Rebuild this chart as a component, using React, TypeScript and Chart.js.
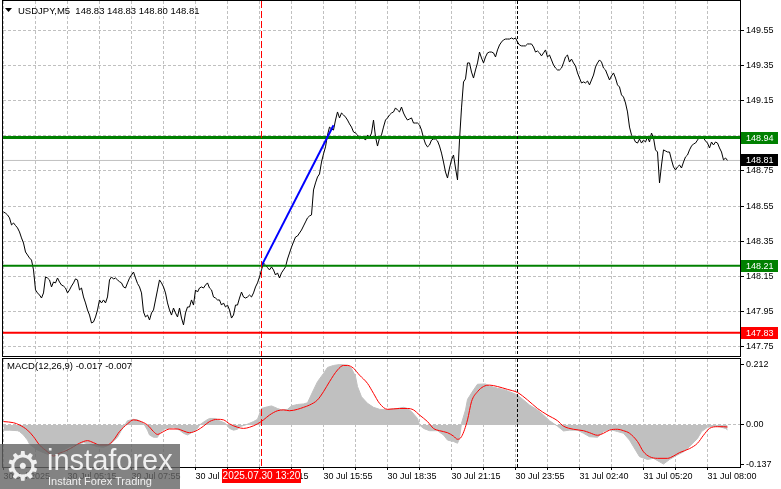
import React, { useEffect, useRef } from "react";
import { Chart, registerables } from "chart.js";

Chart.register(...registerables);

const FONT = '"Liberation Sans", Arial, Helvetica, sans-serif';

// ---------- texts ----------
const symbolTitle = "USDJPY,M5";
const ohlcValues = ["148.83", "148.83", "148.80", "148.81"];
const macdTitle = "MACD(12,26,9) -0.017 -0.007";
const markerLabel = "2025.07.30 13:20";

// ---------- price (M5 close, one value per bar) ----------
const priceClose = [
  148.517, 148.51, 148.5, 148.483, 148.443, 148.454, 148.44, 148.426, 148.403, 148.369,
  148.34, 148.289, 148.272, 148.255, 148.243, 148.187, 148.073, 148.056, 148.044, 148.027,
  148.056, 148.147, 148.141, 148.13, 148.09, 148.118, 148.113, 148.141, 148.118, 148.101,
  148.095, 148.084, 148.056, 148.073, 148.095, 148.113, 148.136, 148.13, 148.073, 148.084,
  148.033, 147.999, 147.959, 147.93, 147.885, 147.891, 147.919, 147.959, 148.016, 147.999,
  148.016, 147.999, 148.033, 148.13, 148.147, 148.135, 148.141, 148.13, 148.12, 148.113,
  148.09, 148.084, 148.113, 148.14, 148.158, 148.175, 148.141, 148.11, 148.09, 148.056,
  147.948, 147.919, 147.93, 147.902, 147.942, 147.959, 148.016, 148.073, 148.13, 148.113,
  148.09, 148.056, 147.999, 147.959, 147.93, 147.97, 147.942, 147.919, 147.97, 147.913,
  147.874, 147.942, 147.976, 147.976, 148.016, 147.987, 148.073, 148.061, 148.084, 148.09,
  148.084, 148.101, 148.113, 148.084, 148.073, 148.033, 148.027, 148.016, 148.016, 147.987,
  147.999, 147.976, 147.987, 147.959, 147.913, 147.93, 147.987, 147.987, 148.027, 148.061,
  148.033, 148.027, 148.033, 148.044, 148.033, 148.056, 148.09, 148.113, 148.147, 148.187,
  148.226, 148.215, 148.2, 148.187, 148.204, 148.187, 148.158, 148.17, 148.141, 148.17,
  148.187, 148.204, 148.249, 148.283, 148.317, 148.346, 148.374, 148.38, 148.397, 148.414,
  148.437, 148.46, 148.483, 148.494, 148.5, 148.642, 148.682, 148.716, 148.733, 148.801,
  148.847, 148.887, 148.955, 149.0, 148.989, 148.983, 149.04, 149.086, 149.052, 149.08,
  149.069, 149.057, 149.04, 149.018, 149.0, 148.972, 148.966, 148.955, 148.932, 148.938,
  148.938, 148.926, 148.955, 148.938, 148.966, 149.04, 148.944, 148.892, 148.938, 148.955,
  149.0, 149.04, 149.052, 149.069, 149.08, 149.086, 149.109, 149.097, 149.086, 149.114,
  149.08, 149.057, 149.04, 149.046, 149.052, 149.023, 149.023, 149.023, 149.012, 148.983,
  148.938, 148.904, 148.887, 148.898, 148.926, 148.932, 148.932, 148.921, 148.892, 148.852,
  148.801, 148.744, 148.71, 148.767, 148.813, 148.841, 148.767, 148.699, 148.926, 149.109,
  149.257, 149.274, 149.365, 149.365, 149.313, 149.279, 149.325, 149.365, 149.427, 149.393,
  149.365, 149.399, 149.422, 149.427, 149.427, 149.422, 149.399, 149.439, 149.467, 149.484,
  149.496, 149.501, 149.501, 149.501, 149.507, 149.501, 149.507, 149.484, 149.467, 149.462,
  149.462, 149.462, 149.473, 149.473, 149.473, 149.456, 149.427, 149.433, 149.422, 149.405,
  149.422, 149.439, 149.399, 149.41, 149.382, 149.353, 149.336, 149.325, 149.325, 149.336,
  149.365, 149.399, 149.41, 149.37, 149.387, 149.365, 149.348, 149.308, 149.279, 149.251,
  149.257, 149.251, 149.262, 149.24, 149.268, 149.296, 149.342, 149.365, 149.382, 149.37,
  149.336, 149.325, 149.296, 149.268, 149.291, 149.308, 149.279, 149.24, 149.228, 149.183,
  149.171, 149.137, 149.086, 149.0, 148.955, 148.938, 148.915, 148.909, 148.932, 148.909,
  148.926, 148.915, 148.944, 148.915, 148.966, 148.938, 148.87, 148.858, 148.682, 148.784,
  148.87, 148.864, 148.858, 148.858, 148.813, 148.773, 148.756, 148.773, 148.784, 148.767,
  148.801, 148.83, 148.841, 148.87, 148.892, 148.904, 148.909, 148.926, 148.944, 148.944,
  148.938, 148.921, 148.909, 148.881, 148.915, 148.898, 148.915, 148.909, 148.881, 148.858,
  148.813, 148.824, 148.81,
];

// ---------- levels & objects ----------
const resistanceLevel = 148.94;
const supportLevel = 148.21;
const stopLevel = 147.83;
const bidLevel = 148.81;
const trendBars = [129, 165];
const trendPrices = [148.21, 149.01];
const markerBar = 129;
const daySeparatorBar = 256.75;

// ---------- MACD ----------
const histBars = [
  0, 3, 7, 8, 10, 12, 13, 15, 17, 20, 23, 27, 30, 33, 37, 40, 43, 47, 50, 53, 57, 59, 61, 62, 65, 67, 70,
  72, 73, 75, 77, 78, 80, 82, 85, 88, 90, 92, 94, 97, 98, 101, 103, 106, 108, 111, 113, 115, 117, 118,
  121, 123, 125, 127, 129, 132, 134, 137, 139, 142, 144, 147, 150, 152, 155, 157, 160, 162, 165, 168,
  172, 174, 176, 177, 179, 182, 185, 188, 192, 193, 197, 200, 202, 204, 207, 208, 210, 213, 217, 220,
  222, 225, 227, 228, 229, 231, 232, 235, 237, 241, 243, 247, 250, 253, 257, 260, 263, 267, 270, 273,
  277, 280, 283, 287, 290, 293, 297, 300, 303, 307, 310, 313, 316, 318, 322, 325, 328, 330, 333, 337,
  340, 343, 347, 349, 352, 355, 358, 361, 362,
];
const histValues = [
  -0.018, -0.018, -0.02, -0.023, -0.035, -0.053, -0.067, -0.078, -0.088, -0.097, -0.105, -0.102, -0.088,
  -0.076, -0.067, -0.062, -0.067, -0.076, -0.078, -0.07, -0.043, -0.018, 0.004, 0.015, 0.02, 0.018, 0.006,
  -0.018, -0.035, -0.043, -0.043, -0.029, -0.015, -0.012, -0.009, -0.018, -0.029, -0.035, -0.027, -0.012,
  0.0, 0.015, 0.023, 0.023, 0.015, 0.006, -0.012, -0.018, -0.015, -0.006,
  0.0, 0.006, 0.012, 0.02, 0.058, 0.064, 0.067, 0.058, 0.053, 0.055, 0.067, 0.072, 0.074, 0.078, 0.123,
  0.152, 0.181, 0.202, 0.209, 0.212,
  0.21, 0.199, 0.17, 0.135, 0.099, 0.076, 0.062, 0.055, 0.053, 0.055, 0.058, 0.062, 0.058, 0.047, 0.023,
  0.0, -0.012, -0.02, -0.02, -0.035,
  -0.053, -0.058, -0.064, -0.047, 0.006, 0.053, 0.09, 0.123, 0.143, 0.144, 0.137, 0.129, 0.125, 0.117,
  0.105, 0.088, 0.07, 0.053, 0.035, 0.015,
  -0.004, -0.021, -0.018, -0.018, -0.029, -0.041, -0.043, -0.023, -0.015, -0.023, -0.029, -0.053, -0.088,
  -0.111, -0.121, -0.117, -0.129, -0.137, -0.121, -0.105,
  -0.094, -0.076, -0.047, -0.023, -0.008, -0.004, -0.006, -0.012, -0.017,
];
const signalBars = [
  0, 5, 8, 12, 15, 18, 22, 25, 28, 32, 35, 38, 42, 45, 48, 52, 55, 58, 62, 65, 68, 72, 75, 77, 80, 83,
  87, 90, 93, 97, 100, 103, 107, 110, 113, 117, 120, 123, 127, 130, 133, 137, 140, 143, 147, 150, 153,
  157, 160, 163, 167, 170, 172, 175, 178, 182, 185, 188, 192, 198, 202, 205, 208, 212, 215, 218, 222,
  225, 227, 229, 232, 234, 237, 240, 243, 247, 252, 257, 262, 267, 272, 277, 280, 285, 290, 293, 297,
  300, 303, 307, 310, 313, 317, 320, 323, 327, 332, 335, 338, 343, 347, 350, 353, 357, 360, 362,
];
const signalValues = [
  0.012, 0.008, 0.0, -0.018, -0.041, -0.07, -0.094, -0.109, -0.099, -0.088, -0.076, -0.064, -0.055,
  -0.062, -0.07, -0.07, -0.053, -0.023, 0.004, 0.018, 0.014, 0.0, -0.023, -0.033, -0.023, -0.014,
  -0.014, -0.021, -0.027, -0.018, -0.004, 0.012, 0.02, 0.018, 0.004, -0.008, -0.012, -0.008, 0.004,
  0.018, 0.035, 0.05, 0.053, 0.05, 0.055, 0.062, 0.07, 0.088, 0.117, 0.152, 0.193, 0.209, 0.209,
  0.199, 0.175, 0.146, 0.111, 0.076, 0.055, 0.058, 0.058, 0.053, 0.035, 0.012, -0.012, -0.02, -0.027,
  -0.039, -0.05, -0.041, 0.018, 0.082, 0.117, 0.135, 0.14, 0.135, 0.125, 0.114, 0.088, 0.058, 0.035,
  0.015, -0.004, -0.015, -0.02, -0.027, -0.036, -0.029, -0.018, -0.015, -0.02, -0.029, -0.058, -0.094,
  -0.111, -0.117, -0.117, -0.109, -0.097, -0.083, -0.064, -0.036, -0.012, -0.006, -0.006, -0.007,
];

// ---------- axes ----------
const priceTicks = [147.75, 147.95, 148.15, 148.35, 148.55, 148.75, 148.95, 149.15, 149.35, 149.55];
const macdTicks = [-0.137, 0, 0.212];
const macdTickLabels = ["-0.137", "0.00", "0.212"];
const gridBars = [0, 16, 32, 48, 64, 80, 96, 112, 128, 144, 160, 176, 192, 208, 224, 240, 256, 272, 288, 304, 320, 336, 352];
const labelBars = [0, 32, 64, 96, 128, 160, 192, 224, 256, 288, 320, 352];
const timeLabels = [
  "30 Jul 2025", "30 Jul 05:15", "30 Jul 07:55", "30 Jul 10:35", "30 Jul 13:15", "30 Jul 15:55",
  "30 Jul 18:35", "30 Jul 21:15", "30 Jul 23:55", "31 Jul 02:40", "31 Jul 05:20", "31 Jul 08:00",
];

const X_MIN = -0.25;
const X_MAX = 368.25;
const PRICE_MIN = 147.697;
const PRICE_MAX = 149.7175;
const MACD_MIN = -0.1474;
const MACD_MAX = 0.2316;

const GRID = "#C0C0C0";

function hline(v: number) {
  return [
    { x: X_MIN, y: v },
    { x: X_MAX, y: v },
  ];
}

const fixBox = (w?: number, h?: number) => (s: any) => {
  if (w !== undefined) s.width = w;
  if (h !== undefined) s.height = h;
  s.paddingLeft = 0;
  s.paddingRight = 0;
  s.paddingTop = 0;
  s.paddingBottom = 0;
};

function drawVLine(chart: any, bar: number, color: string, dash: number[]) {
  const { ctx, chartArea, scales } = chart;
  const x = Math.floor(scales.x.getPixelForValue(bar)) + 0.5;
  ctx.save();
  ctx.strokeStyle = color;
  ctx.lineWidth = 1;
  ctx.setLineDash(dash);
  ctx.beginPath();
  ctx.moveTo(x, chartArea.top);
  ctx.lineTo(x, chartArea.bottom);
  ctx.stroke();
  ctx.restore();
}

function drawFrame(chart: any) {
  const { ctx, chartArea } = chart;
  ctx.save();
  ctx.strokeStyle = "#000";
  ctx.lineWidth = 1;
  ctx.setLineDash([]);
  ctx.strokeRect(chartArea.left - 0.5, chartArea.top - 0.5, chartArea.right - chartArea.left + 1, chartArea.bottom - chartArea.top + 1);
  ctx.restore();
}

const priceDecor = {
  id: "priceDecor",
  afterDatasetsDraw(chart: any) {
    drawVLine(chart, markerBar, "#FF0000", [7, 3]);
    drawVLine(chart, daySeparatorBar, "#000000", [3, 2]);
  },
  afterDraw(chart: any) {
    const { ctx, scales } = chart;
    drawFrame(chart);
    const y = scales.y;
    const boxes = [
      { v: resistanceLevel, bg: "#008000" },
      { v: bidLevel, bg: "#000000" },
      { v: supportLevel, bg: "#008000" },
      { v: stopLevel, bg: "#FF0000" },
    ];
    ctx.save();
    ctx.font = `9px ${FONT}`;
    ctx.textBaseline = "middle";
    ctx.textAlign = "left";
    boxes.forEach((b) => {
      const py = Math.round(y.getPixelForValue(b.v));
      ctx.fillStyle = b.bg;
      ctx.fillRect(741, py - 6, 37, 12);
      ctx.fillStyle = "#FFFFFF";
      ctx.fillText(b.v.toFixed(2), 746, py + 0.5);
    });
    // header
    ctx.fillStyle = "#000";
    ctx.beginPath();
    ctx.moveTo(5, 8);
    ctx.lineTo(12, 8);
    ctx.lineTo(8.5, 12);
    ctx.closePath();
    ctx.fill();
    ctx.font = `9.5px ${FONT}`;
    ctx.fillText(`${symbolTitle}  ${ohlcValues.join(" ")}`, 18, 11);
    ctx.restore();
  },
};

const macdDecor = {
  id: "macdDecor",
  afterDatasetsDraw(chart: any) {
    drawVLine(chart, markerBar, "#FF0000", [7, 3]);
    drawVLine(chart, daySeparatorBar, "#000000", [3, 2]);
  },
  afterDraw(chart: any) {
    const { ctx, scales, chartArea } = chart;
    drawFrame(chart);
    ctx.save();
    ctx.font = `9.5px ${FONT}`;
    ctx.fillStyle = "#000";
    ctx.textBaseline = "middle";
    ctx.textAlign = "left";
    ctx.fillText(macdTitle, 7, chartArea.top + 7);
    const x = Math.floor(scales.x.getPixelForValue(markerBar));
    ctx.fillStyle = "#FF0000";
    ctx.fillRect(x - 39, chartArea.bottom + 2, 79, 14);
    ctx.fillStyle = "#FFFFFF";
    ctx.font = `10px ${FONT}`;
    ctx.textAlign = "center";
    ctx.fillText(markerLabel, x + 0.5, chartArea.bottom + 9.5);
    ctx.restore();
  },
};

function priceConfig(): any {
  const priceData = priceClose.map((v, i) => ({ x: i, y: v }));
  return {
    type: "line",
    data: {
      datasets: [
        { data: trendBars.map((b, i) => ({ x: b, y: trendPrices[i] })), borderColor: "#0000FF", borderWidth: 2, order: 0 },
        { data: hline(resistanceLevel), borderColor: "#008000", borderWidth: 3, order: 1 },
        { data: hline(supportLevel), borderColor: "#008000", borderWidth: 2, order: 1 },
        { data: hline(stopLevel), borderColor: "#FF0000", borderWidth: 2, order: 1 },
        { data: priceData, borderColor: "#000000", borderWidth: 1, order: 2 },
        { data: hline(bidLevel), borderColor: GRID, borderWidth: 1, order: 3 },
      ],
    },
    options: {
      responsive: false,
      animation: false,
      events: [],
      devicePixelRatio: 1,
      layout: { padding: { left: 3, top: 1, right: 0, bottom: 1 } },
      elements: { point: { radius: 0 }, line: { tension: 0, fill: false } },
      plugins: { legend: { display: false }, tooltip: { enabled: false } },
      scales: {
        x: {
          type: "linear",
          min: X_MIN,
          max: X_MAX,
          afterBuildTicks: (s: any) => {
            s.ticks = gridBars.map((v) => ({ value: v }));
          },
          afterFit: fixBox(undefined, 0),
          ticks: { display: false },
          grid: { color: GRID, drawTicks: false },
          border: { display: false, dash: [3, 2] },
        },
        y: {
          type: "linear",
          position: "right",
          min: PRICE_MIN,
          max: PRICE_MAX,
          afterBuildTicks: (s: any) => {
            s.ticks = priceTicks.map((v) => ({ value: v }));
          },
          afterFit: fixBox(41, undefined),
          ticks: {
            color: "#000",
            padding: 2,
            font: { family: FONT, size: 9 },
            callback: (v: number) => Number(v).toFixed(2),
          },
          grid: { color: GRID, tickLength: 4, tickColor: "#000", tickBorderDash: [] },
          border: { display: false, dash: [3, 2] },
        },
      },
    },
    plugins: [priceDecor],
  };
}

function macdConfig(): any {
  return {
    type: "line",
    data: {
      datasets: [
        {
          data: signalBars.map((b, i) => ({ x: b, y: signalValues[i] })),
          borderColor: "#FF0000",
          borderWidth: 1,
          cubicInterpolationMode: "monotone",
          order: 0,
        },
        {
          data: histBars.map((b, i) => ({ x: b, y: histValues[i] })),
          borderColor: GRID,
          backgroundColor: GRID,
          borderWidth: 1,
          fill: "origin",
          order: 1,
        },
      ],
    },
    options: {
      responsive: false,
      animation: false,
      events: [],
      devicePixelRatio: 1,
      layout: { padding: { left: 3, top: 2, right: 0, bottom: 0 } },
      elements: { point: { radius: 0 }, line: { tension: 0 } },
      plugins: { legend: { display: false }, tooltip: { enabled: false } },
      scales: {
        x: {
          type: "linear",
          min: X_MIN,
          max: X_MAX,
          afterBuildTicks: (s: any) => {
            s.ticks = gridBars.map((v) => ({ value: v }));
          },
          afterFit: fixBox(undefined, 22),
          ticks: {
            display: true,
            autoSkip: false,
            maxRotation: 0,
            align: "start",
            padding: 1,
            color: "#000",
            font: { family: FONT, size: 9 },
            callback: (v: number) => {
              const i = labelBars.indexOf(Number(v));
              return i >= 0 ? timeLabels[i] : "";
            },
          },
          grid: { color: GRID, tickLength: 3, tickColor: "#000", tickBorderDash: [] },
          border: { display: false, dash: [3, 2] },
        },
        y: {
          type: "linear",
          position: "right",
          min: MACD_MIN,
          max: MACD_MAX,
          afterBuildTicks: (s: any) => {
            s.ticks = macdTicks.map((v) => ({ value: v }));
          },
          afterFit: fixBox(41, undefined),
          ticks: {
            color: "#000",
            padding: 2,
            font: { family: FONT, size: 9 },
            callback: (v: number) => {
              const i = macdTicks.indexOf(Number(v));
              return i >= 0 ? macdTickLabels[i] : "";
            },
          },
          grid: {
            color: (c: any) => (c.tick && c.tick.value === 0 ? GRID : "rgba(0,0,0,0)"),
            tickLength: 4,
            tickColor: "#000",
            tickBorderDash: [],
          },
          border: { display: false, dash: [3, 2] },
        },
      },
    },
    plugins: [macdDecor],
  };
}

export default function App() {
  const priceRef = useRef<HTMLCanvasElement>(null);
  const macdRef = useRef<HTMLCanvasElement>(null);

  useEffect(() => {
    Chart.defaults.font.family = FONT;
    Chart.defaults.font.size = 9;
    const c1 = new Chart(priceRef.current as HTMLCanvasElement, priceConfig());
    const c2 = new Chart(macdRef.current as HTMLCanvasElement, macdConfig());
    return () => {
      c1.destroy();
      c2.destroy();
    };
  }, []);

  return (
    <div style={{ position: "fixed", left: 0, top: 0, width: 781, height: 489, background: "#fff", overflow: "hidden" }}>
      <canvas ref={priceRef} width={781} height={357} style={{ position: "absolute", left: 0, top: 0 }} />
      <canvas ref={macdRef} width={781} height={132} style={{ position: "absolute", left: 0, top: 357 }} />
      <div
        style={{
          position: "absolute",
          left: 0,
          top: 444,
          width: 180,
          height: 45,
          background: "rgba(100,100,100,0.8)",
          color: "rgba(255,255,255,0.88)",
          fontFamily: FONT,
        }}
      >
        <span style={{ position: "absolute", left: 5, top: -1, fontSize: 40, lineHeight: "46px", fontFamily: '"DejaVu Sans"' }}>⚙</span>
        <span style={{ position: "absolute", left: 47, top: 1, fontSize: 29, lineHeight: "30px" }}>instaforex</span>
        <span style={{ position: "absolute", left: 48, top: 31, fontSize: 11, lineHeight: "13px" }}>Instant Forex Trading</span>
      </div>
    </div>
  );
}
